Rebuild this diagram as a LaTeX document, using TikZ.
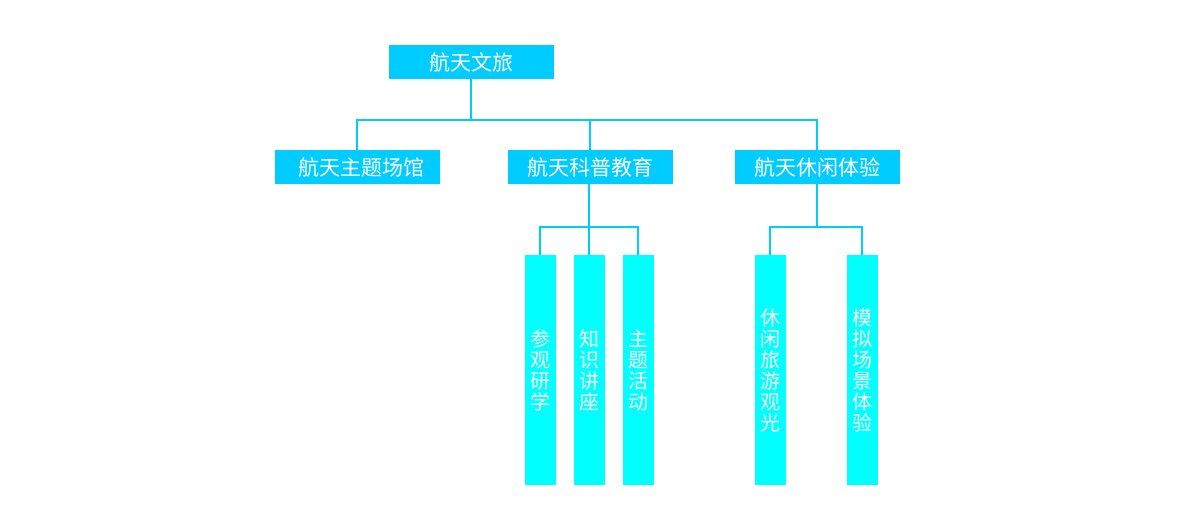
\documentclass[tikz,border=0pt]{standalone}
\usepackage{fontspec}
\newfontfamily\cjk{Noto Sans CJK SC}
\definecolor{hbox}{RGB}{0,204,255}
\definecolor{vbox}{RGB}{0,255,255}
\tikzset{
  topbox/.style={fill=hbox, text=white, inner sep=0pt, minimum width=165pt, minimum height=34pt, font=\cjk\fontsize{21}{23}\selectfont},
  colbox/.style={fill=vbox, text=white, inner sep=0pt, minimum width=31pt, minimum height=230pt, align=center, font=\cjk\fontsize{20}{21}\selectfont},
  link/.style={draw=hbox, line width=2pt}
}
\begin{document}
\begin{tikzpicture}[x=1pt,y=-1pt]
\useasboundingbox (0,0) rectangle (1182,532);
\node[topbox] (root) at (471,62){航天文旅};
\node[topbox] (hall) at (357,167){\hspace{8pt}航天主题场馆};
\node[topbox] (edu) at (590,167){航天科普教育};
\node[topbox] (leis) at (817,167){航天休闲体验};
\coordinate (bus0) at (471,120);
\draw[link](root.south) -- (bus0) -| (hall.north);
\draw[link](bus0) -| (edu.north);
\draw[link](bus0) -| (leis.north);
\node[colbox] (visit) at (540,370){参\\观\\研\\学};
\node[colbox] (talk) at (589,370){知\\识\\讲\\座};
\node[colbox] (event) at (638,370){主\\题\\活\\动};
\coordinate (bus1) at (589,227);
\draw[link](edu.south -| bus1) -- (bus1) -| (visit.north);
\draw[link](bus1) -- (talk.north);
\draw[link](bus1) -| (event.north);
\node[colbox] (tour) at (770,370){休\\闲\\旅\\游\\观\\光};
\node[colbox] (sim) at (862,370){模\\拟\\场\\景\\体\\验};
\coordinate (bus2) at (817,227);
\draw[link](leis.south) -- (bus2) -| (tour.north);
\draw[link](bus2) -| (sim.north);
\end{tikzpicture}
\end{document}
